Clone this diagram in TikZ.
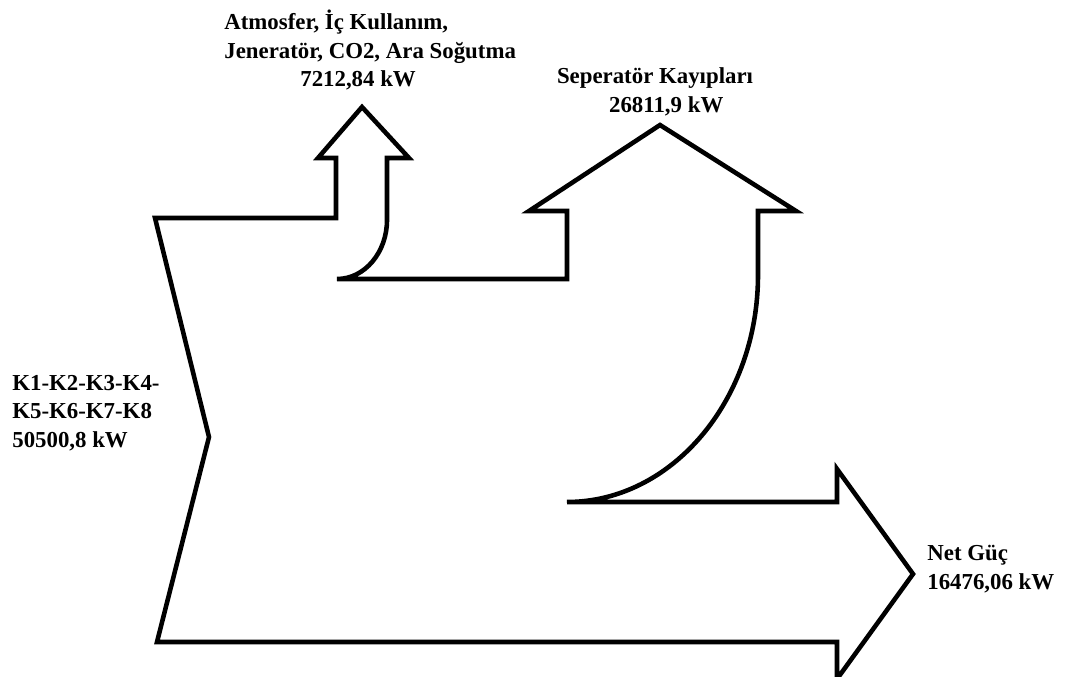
\documentclass[tikz,border=0pt]{standalone}
\usepackage{fontspec}
\setmainfont{Liberation Serif}

\begin{document}
\begin{tikzpicture}[x=0.02cm,y=-0.02cm]
\tikzset{
  flowline/.style={line width=2.6pt,line join=miter},
  flowlabel/.style={inner sep=0pt,align=left,font=\bfseries\fontsize{13}{16.2}\selectfont}
}
\useasboundingbox (0,0) rectangle (1074,676);
% outline of the energy flow
\draw[flowline] (155,218) -- (336,218) -- (336,158) -- (318,158) -- (362,107)
  -- (409,158) -- (387,158) -- (387,220)
  .. controls (387,252) and (365,279) .. (337,279)
  -- (567,279) -- (567,211) -- (529,211) -- (660,125) -- (796,211)
  -- (758,211) -- (758,275)
  .. controls (758,400) and (672,502) .. (567,502)
  -- (837,502) -- (837,469) -- (913,574) -- (837,679) -- (837,642)
  -- (157,642) -- (209,437) -- cycle;
% labels
\node[flowlabel,anchor=west] (l_in) at (12,413) {K1-K2-K3-K4-\\K5-K6-K7-K8\\50500,8 kW};
\node[flowlabel,anchor=west] (l_loss) at (224,50) {Atmosfer, İç Kullanım,\\Jeneratör, CO2, Ara Soğutma\\\hspace*{1.52cm}7212,84 kW};
\node[flowlabel,align=center] (l_sep) at (655,92) {Seperatör Kayıpları\\\hspace*{0.45cm}26811,9 kW};
\node[flowlabel,anchor=west] (l_net) at (927,569) {Net Güç\\16476,06 kW};
\end{tikzpicture}
\end{document}
